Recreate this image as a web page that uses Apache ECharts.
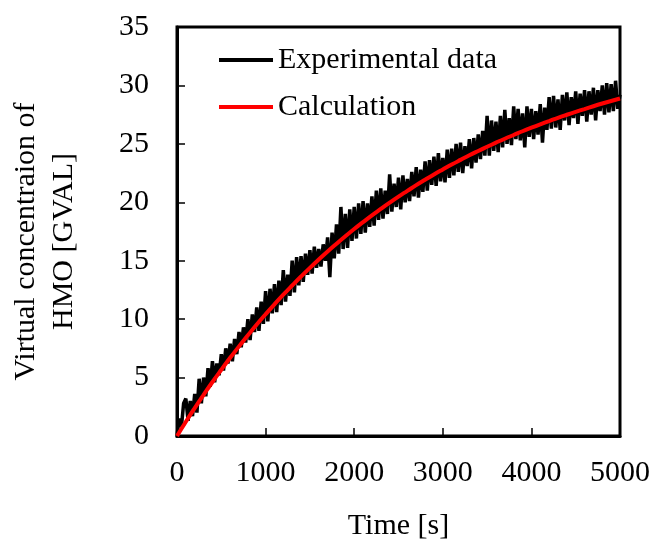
<!DOCTYPE html>
<html>
<head>
<meta charset="utf-8">
<script src="https://cdn.jsdelivr.net/npm/echarts@6/dist/echarts.min.js"></script>
<style>html,body{margin:0;padding:0;background:#fff}#c{width:655px;height:539px}</style>
</head>
<body>
<div id="c"></div>
<script>
// Experimental data, 25 s spacing from 0 to 5000 s
const expStep = 25;
const expValues = [
0, 1.5, 0.8, 2.8,
3.2, 1.3, 3.0, 1.7,
3.6, 2.0, 4.9, 2.8,
5.0, 3.4, 5.8, 4.2,
6.4, 4.6, 6.2, 5.2,
7.0, 5.6, 7.5, 6.2,
7.9, 6.4, 8.3, 7.0,
8.9, 7.6, 9.3, 8.0,
10.0, 8.2, 10.4, 8.9,
11.0, 9.0, 11.5, 9.6,
12.4, 9.8, 12.6, 10.5,
13.0, 10.6, 13.3, 11.2,
14.2, 11.5, 13.8, 12.0,
15.0, 12.3, 15.3, 12.9,
15.4, 13.2, 15.6, 13.8,
15.9, 13.9, 16.2, 14.4,
16.0, 14.5, 16.4, 15.0,
17.0, 13.6, 17.4, 15.2,
18.1, 15.6, 19.6, 16.0,
19.0, 16.1, 19.4, 16.7,
19.6, 16.9, 19.9, 17.3,
20.1, 17.4, 19.9, 17.9,
20.5, 18.0, 21.0, 18.5,
21.2, 18.6, 21.0, 19.0,
22.4, 19.2, 21.6, 19.6,
22.1, 19.4, 22.3, 20.0,
22.0, 20.1, 22.6, 20.5,
23.0, 20.4, 22.8, 20.9,
23.5, 21.0, 23.6, 21.5,
23.9, 21.4, 24.2, 21.8,
23.8, 21.7, 24.5, 22.1,
24.6, 22.3, 25.0, 22.6,
25.1, 22.5, 24.8, 23.1,
25.4, 22.9, 25.5, 23.4,
25.8, 23.7, 26.1, 24.0,
27.4, 24.0, 27.0, 24.4,
26.9, 24.3, 27.4, 24.7,
27.9, 25.0, 27.2, 24.9,
28.2, 25.4, 28.0, 25.3,
27.6, 24.7, 28.2, 25.6,
28.0, 25.4, 27.8, 25.8,
28.4, 25.1, 28.1, 26.2,
29.0, 26.3, 29.1, 26.4,
28.8, 26.2, 29.2, 27.0,
29.4, 26.6, 29.0, 27.2,
29.5, 26.7, 29.3, 27.4,
29.6, 26.9, 29.5, 27.5,
29.8, 27.0, 29.6, 27.8,
30.0, 27.5, 30.2, 27.7,
30.1, 27.8, 30.4, 28.0,
29.2
];
// Calculation curve, 100 s spacing
const calcStep = 100;
const calcValues = [
0, 1.22, 2.39, 3.52, 4.62, 5.67, 6.69, 7.67, 8.62, 9.54,
10.42, 11.27, 12.09, 12.88, 13.65, 14.39, 15.10, 15.79, 16.45, 17.09,
17.71, 18.30, 18.88, 19.43, 19.97, 20.49, 20.98, 21.47, 21.93, 22.38,
22.81, 23.23, 23.63, 24.02, 24.39, 24.75, 25.10, 25.44, 25.76, 26.08,
26.38, 26.67, 26.95, 27.23, 27.49, 27.74, 27.98, 28.22, 28.45, 28.67,
28.88
];
const xTicks = [0, 1000, 2000, 3000, 4000, 5000];
const yTicks = [0, 5, 10, 15, 20, 25, 30, 35];
const seriesNames = ['Experimental data', 'Calculation'];

const expData = expValues.map((v, i) => [i * expStep, v]);
const calcData = calcValues.map((v, i) => [i * calcStep, v]);

const FONT = '"Liberation Serif", "Times New Roman", serif';
const chart = echarts.init(document.getElementById('c'), null, {renderer: 'canvas'});
chart.setOption({
  animation: false,
  backgroundColor: '#fff',
  textStyle: {fontFamily: FONT},
  grid: {left: 177, right: 35, top: 27, bottom: 103, containLabel: false, outerBoundsMode: 'none',
         show: true, borderColor: '#000', borderWidth: 3, backgroundColor: 'transparent'},
  legend: {
    orient: 'vertical', left: 214, top: 40, itemWidth: 54, itemHeight: 4, itemGap: 17,
    icon: 'rect',
    textStyle: {fontFamily: FONT, fontSize: 30, color: '#000'},
    data: seriesNames
  },
  xAxis: {
    type: 'value', min: xTicks[0], max: xTicks[xTicks.length - 1], interval: 1000,
    name: 'Time [s]', nameLocation: 'middle', nameGap: 75,
    nameTextStyle: {fontFamily: FONT, fontSize: 30, color: '#000'},
    axisLine: {show: true, lineStyle: {color: '#000', width: 3}},
    axisTick: {show: true, inside: true, length: 8, lineStyle: {color: '#000', width: 1.5}},
    axisLabel: {fontFamily: FONT, fontSize: 30, color: '#000', margin: 22, formatter: v => String(v)},
    splitLine: {show: false}
  },
  yAxis: {
    type: 'value', min: yTicks[0], max: yTicks[yTicks.length - 1], interval: 5,
    name: 'Virtual concentraion of\nHMO [GVAL]', nameLocation: 'middle', nameRotate: 90, nameGap: 94,
    nameTextStyle: {fontFamily: FONT, fontSize: 30, color: '#000', lineHeight: 38, padding: [0, 20, 0, 0]},
    axisLine: {show: true, lineStyle: {color: '#000', width: 3}},
    axisTick: {show: true, inside: true, length: 8, lineStyle: {color: '#000', width: 1.5}},
    axisLabel: {fontFamily: FONT, fontSize: 30, color: '#000', margin: 28, formatter: v => String(v)},
    splitLine: {show: false}
  },
  series: [
    {name: seriesNames[0], type: 'line', data: expData, showSymbol: false, symbol: 'none',
     lineStyle: {color: '#000', width: 3.5}, itemStyle: {color: '#000'}, z: 2},
    {name: seriesNames[1], type: 'line', data: calcData, smooth: true, showSymbol: false, symbol: 'none',
     lineStyle: {color: '#ff0000', width: 4}, itemStyle: {color: '#ff0000'}, z: 3}
  ]
});
</script>
</body>
</html>
